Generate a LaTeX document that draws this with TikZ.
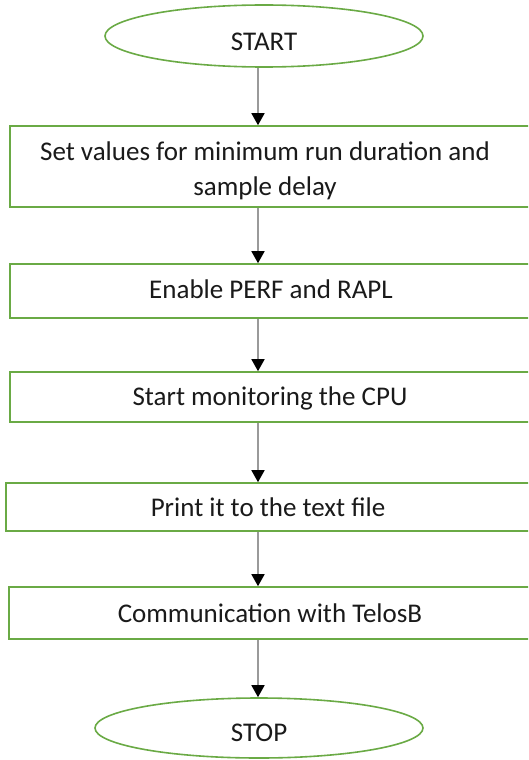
\documentclass[tikz,border=0pt]{standalone}
\usepackage{fontspec}
\setmainfont{Carlito}
\usetikzlibrary{shapes.geometric,arrows.meta}
\definecolor{boxgreen}{HTML}{6AAA45}
\definecolor{linegray}{HTML}{9A9A9A}
\definecolor{txt}{HTML}{1A1A1A}
\begin{document}
\begin{tikzpicture}[x=1pt,y=-1pt,
  every node/.style={font=\fontsize{27}{35}\selectfont, text=txt},
  stepbox/.style={draw=boxgreen, line width=1.6pt, rectangle, inner sep=0pt, align=center, fill=white},
  term/.style={draw=boxgreen, line width=1.6pt, ellipse, inner sep=0pt, fill=white},
  arr/.style={draw=linegray, line width=1.6pt, -{Triangle[width=13pt,length=12pt,color=black]}}]
\useasboundingbox (0,0) rectangle (528,760);
\clip (0,0) rectangle (528,760);
\fill[white] (0,0) rectangle (528,760);
\coordinate (ax) at (258,0);
\node[term, minimum width=318pt, minimum height=62pt] (start) at (264,36) {};
\node at (264,42) {START};
\node[stepbox, minimum width=522pt, minimum height=81pt] (b1) at (271,166.5) {};
\node[align=center] at (265,170.5) {Set values for minimum run duration and\\sample delay};
\node[stepbox, minimum width=522pt, minimum height=54pt] (b2) at (271,291) {};
\node at (271,289) {Enable PERF and RAPL};
\node[stepbox, minimum width=522pt, minimum height=50pt] (b3) at (271,397) {};
\node at (270,398) {Start monitoring the CPU};
\node[stepbox, minimum width=526pt, minimum height=48pt] (b4) at (269,507) {};
\node at (268,507) {Print it to the text file};
\node[stepbox, minimum width=523pt, minimum height=52pt] (b5) at (270.5,613) {};
\node at (270,613) {Communication with TelosB};
\node[term, minimum width=328pt, minimum height=60pt] (stop) at (259,728) {};
\node at (259,733) {STOP};
\draw[arr] (start.south -| ax) -- (b1.north -| ax);
\draw[arr] (b1.south -| ax) -- (b2.north -| ax);
\draw[arr] (b2.south -| ax) -- (b3.north -| ax);
\draw[arr] (b3.south -| ax) -- (b4.north -| ax);
\draw[arr] (b4.south -| ax) -- (b5.north -| ax);
\draw[arr] (b5.south -| ax) -- (stop.north -| ax);
\end{tikzpicture}
\end{document}
